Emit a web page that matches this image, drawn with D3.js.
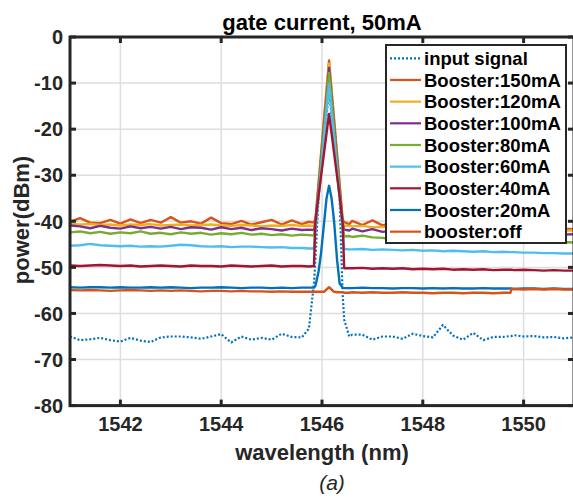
<!DOCTYPE html>
<html>
<head>
<meta charset="utf-8">
<script src="https://cdn.jsdelivr.net/npm/d3@7"></script>
<style>
  body { margin: 0; background: #fff; }
  text { font-family: "Liberation Sans", Arial, Helvetica, sans-serif; }
</style>
</head>
<body>
<div id="chart"></div>
<script>
// wavelength grid (nm) shared by all spectra
const wavelength = [
  1541.0, 1541.2, 1541.4, 1541.6, 1541.8, 1542.0, 1542.2, 1542.4, 1542.6, 1542.8,
  1543.0, 1543.2, 1543.4, 1543.6, 1543.8, 1544.0, 1544.2, 1544.4, 1544.6, 1544.8,
  1545.0, 1545.2, 1545.4, 1545.6,
  1545.74, 1545.84, 1545.87, 1545.93, 1545.98, 1546.04, 1546.09, 1546.14,
  1546.19, 1546.24, 1546.30, 1546.35, 1546.41, 1546.44, 1546.54,
  1546.6, 1546.8, 1547.0, 1547.2, 1547.4, 1547.6, 1547.8, 1548.0, 1548.2, 1548.4,
  1548.6, 1548.8, 1549.0, 1549.2, 1549.4, 1549.6, 1549.74, 1549.76, 1549.8, 1550.0,
  1550.2, 1550.4, 1550.6, 1550.8, 1551.0
];

// power (dBm)
const inputSignal = [
  -65.0, -65.8, -65.6, -65.3, -65.8, -66.1, -65.3, -65.9, -66.2, -65.2,
  -65.0, -65.0, -65.2, -65.5, -65.0, -64.5, -66.3, -65.0, -65.7, -65.3,
  -65.7, -64.4, -65.1, -65.2,
  -63.3, -53.5, -48.0, -35.2, -29.6, -22.8, -17.1, -11.5,
  -17.1, -22.8, -29.6, -35.2, -56.0, -61.3, -65.0,
  -64.6, -64.6, -65.7, -65.0, -65.0, -65.5, -64.4, -64.9, -65.2, -62.5,
  -64.8, -65.7, -64.2, -65.8, -65.1, -65.1, -64.9, -64.9, -64.7, -65.0,
  -64.9, -65.2, -65.1, -65.4, -65.2
];
const booster150 = [
  -40.1, -39.3, -40.3, -40.4, -39.7, -40.5, -39.6, -40.4, -39.7, -40.3,
  -39.1, -40.3, -40.0, -40.5, -39.2, -40.4, -40.6, -39.9, -40.7, -40.2,
  -39.7, -40.7, -39.8, -40.6,
  -40.1, -40.3, -39.5, -31.9, -25.5, -17.8, -11.5, -5.1,
  -11.5, -17.8, -25.5, -31.9, -39.6, -40.2, -40.6,
  -39.9, -40.8, -39.8, -40.9, -40.3, -40.9, -40.5, -41.0, -40.6, -41.1,
  -40.8, -41.2, -40.9, -41.3, -41.0, -41.4, -41.2, -41.2, -41.3, -41.5,
  -41.3, -41.6, -41.4, -41.6, -41.7
];
const booster120 = [
  -40.6, -40.7, -40.6, -40.8, -40.7, -40.9, -40.7, -40.8, -40.6, -40.9,
  -40.8, -40.7, -40.9, -40.8, -40.7, -40.9, -41.0, -40.8, -40.9, -41.1,
  -40.9, -41.0, -40.8, -41.0,
  -40.9, -41.0, -40.0, -32.4, -26.1, -18.5, -12.1, -5.8,
  -12.1, -18.5, -26.1, -32.4, -40.2, -40.9, -41.0,
  -41.1, -41.0, -41.3, -41.2, -41.4, -41.3, -41.5, -41.4, -41.6, -41.5,
  -41.6, -41.7, -41.6, -41.8, -41.7, -41.8, -41.9, -41.9, -41.8, -41.9,
  -42.0, -41.9, -42.0, -42.0, -42.0
];
const booster100 = [
  -40.9, -41.1, -41.5, -41.0, -41.4, -41.6, -41.1, -41.5, -41.2, -41.6,
  -41.2, -41.7, -41.3, -41.4, -41.8, -41.3, -41.7, -41.4, -41.9, -41.5,
  -41.7, -42.0, -41.6, -41.9,
  -41.8, -41.9, -40.5, -33.0, -26.7, -19.2, -13.0, -6.7,
  -13.0, -19.2, -26.7, -33.0, -40.6, -41.8, -42.0,
  -41.6, -42.2, -41.7, -42.3, -42.0, -42.4, -42.1, -42.5, -42.3, -42.6,
  -42.4, -42.7, -42.5, -42.6, -42.8, -42.6, -42.7, -42.7, -42.8, -42.7,
  -42.9, -42.7, -42.8, -42.9, -42.8
];
const booster80 = [
  -42.4, -42.2, -42.6, -42.3, -42.7, -42.4, -42.6, -42.2, -42.7, -42.5,
  -42.8, -42.4, -42.7, -42.5, -42.9, -42.6, -42.8, -42.5, -42.9, -42.7,
  -43.0, -42.8, -43.1, -42.9,
  -43.0, -43.1, -41.0, -33.6, -27.5, -20.1, -13.9, -7.8,
  -13.9, -20.1, -27.5, -33.6, -41.0, -43.3, -43.2,
  -43.4, -43.1, -43.5, -43.6, -43.9, -43.7, -44.0, -43.8, -44.1, -43.9,
  -44.2, -44.0, -44.3, -44.1, -44.4, -44.2, -44.3, -44.3, -44.4, -44.3,
  -44.5, -44.4, -44.6, -44.5, -44.6
];
const booster60 = [
  -45.3, -45.2, -44.9, -45.2, -45.3, -45.4, -45.3, -45.5, -45.4, -45.5,
  -45.3, -45.1, -45.2, -45.4, -45.5, -45.4, -45.6, -45.5, -45.5, -45.6,
  -45.7, -45.6, -45.8, -45.8,
  -45.9, -45.9, -42.0, -35.0, -29.1, -22.0, -16.2, -10.3,
  -16.2, -22.0, -29.1, -35.0, -42.0, -46.0, -46.1,
  -46.1, -46.0, -46.2, -46.1, -46.2, -46.3, -46.2, -46.4, -46.3, -46.5,
  -46.4, -46.5, -46.6, -46.5, -46.7, -46.6, -46.7, -46.7, -46.7, -46.8,
  -46.8, -46.9, -46.9, -47.0, -47.0
];
const booster40 = [
  -49.6, -49.7, -49.6, -49.5, -49.6, -49.7, -49.6, -49.8, -49.7, -49.6,
  -49.7, -49.8, -49.6, -49.7, -49.7, -49.8, -49.6, -49.7, -49.8, -49.7,
  -49.6, -49.8, -49.7, -49.7,
  -49.8, -49.7, -40.0, -34.6, -30.3, -25.2, -20.9, -16.7,
  -20.9, -25.2, -30.3, -34.6, -40.5, -50.2, -50.2,
  -50.2, -50.1, -50.3, -50.2, -50.3, -50.2, -50.4, -50.3, -50.4, -50.3,
  -50.5, -50.4, -50.5, -50.4, -50.6, -50.5, -50.5, -50.5, -50.6, -50.5,
  -50.6, -50.7, -50.6, -50.7, -50.7
];
const booster20 = [
  -54.3, -54.4, -54.3, -54.3, -54.4, -54.3, -54.4, -54.4, -54.3, -54.4,
  -54.3, -54.4, -54.5, -54.4, -54.4, -54.3, -54.4, -54.5, -54.4, -54.4,
  -54.5, -54.4, -54.5, -54.4,
  -54.4, -54.4, -54.0, -51.0, -47.0, -40.5, -35.0, -32.3,
  -35.0, -40.0, -48.5, -53.5, -54.4, -54.5, -54.5,
  -54.5, -54.4, -54.5, -54.5, -54.6, -54.5, -54.5, -54.6, -54.5, -54.6,
  -54.5, -54.6, -54.6, -54.5, -54.6, -54.6, -54.6, -54.6, -54.7, -54.6,
  -54.6, -54.7, -54.6, -54.7, -54.7
];
const boosterOff = [
  -54.9, -55.0, -54.9, -55.0, -55.1, -55.0, -54.9, -55.0, -55.1, -55.0,
  -55.1, -55.0, -55.1, -55.2, -55.1, -55.1, -55.2, -55.1, -55.2, -55.2,
  -55.3, -55.2, -55.3, -55.3,
  -55.3, -55.3, -55.3, -55.3, -55.3, -55.3, -54.8, -54.3,
  -54.8, -55.3, -55.4, -55.4, -55.4, -55.5, -55.5,
  -55.4, -55.5, -55.4, -55.5, -55.5, -55.4, -55.5, -55.5, -55.6, -55.5,
  -55.5, -55.6, -55.5, -55.5, -55.6, -55.5, -55.5, -54.7, -54.7, -54.8,
  -54.7, -54.8, -54.7, -54.8, -54.8
];

const seriesNames = ['input signal', 'Booster:150mA', 'Booster:120mA', 'Booster:100mA',
  'Booster:80mA', 'Booster:60mA', 'Booster:40mA', 'Booster:20mA', 'booster:off'];
const seriesValues = [inputSignal, booster150, booster120, booster100,
  booster80, booster60, booster40, booster20, boosterOff];
const seriesColors = ['#0072BD', '#D95319', '#EDB120', '#7E2F8E',
  '#77AC30', '#4DBEEE', '#A2142F', '#0072BD', '#D95319'];

const xTicks = [1542, 1544, 1546, 1548, 1550];
const yTicks = [0, -10, -20, -30, -40, -50, -60, -70, -80];

const width = 573, height = 498;
const plotL = 70, plotR = 574, plotT = 37, plotB = 405.6;
const axisColor = '#262626';

const svg = d3.select('#chart').append('svg')
  .attr('width', width)
  .attr('height', height);

const x = d3.scaleLinear().domain([1541, 1551]).range([plotL, plotR]);
const y = d3.scaleLinear().domain([-80, 0]).range([plotB, plotT]);

// grid
svg.append('g').selectAll('line').data(xTicks).join('line')
  .attr('x1', d => x(d)).attr('x2', d => x(d))
  .attr('y1', plotT).attr('y2', plotB)
  .attr('stroke', '#dedede').attr('stroke-width', 1.5);
svg.append('g').selectAll('line').data(yTicks.slice(1, -1)).join('line')
  .attr('x1', plotL).attr('x2', plotR)
  .attr('y1', d => y(d)).attr('y2', d => y(d))
  .attr('stroke', '#dedede').attr('stroke-width', 1.5);

// spectra
svg.append('clipPath').attr('id', 'plot-clip')
  .append('rect').attr('x', plotL).attr('y', plotT)
  .attr('width', plotR - plotL).attr('height', plotB - plotT);

const line = d3.line()
  .x((d, i) => x(wavelength[i]))
  .y(d => y(d));

const lines = svg.append('g').attr('clip-path', 'url(#plot-clip)');
seriesValues.forEach((vals, k) => {
  lines.append('path')
    .datum(vals)
    .attr('d', line)
    .attr('fill', 'none')
    .attr('stroke', seriesColors[k])
    .attr('stroke-width', k === 0 ? 2.2 : 2.4)
    .attr('stroke-linejoin', 'round')
    .attr('stroke-dasharray', k === 0 ? '2,2' : null);
});

// axes box with inward ticks
const axisG = svg.append('g');
axisG.append('rect')
  .attr('x', plotL).attr('y', plotT)
  .attr('width', plotR - plotL).attr('height', plotB - plotT)
  .attr('fill', 'none').attr('stroke', axisColor).attr('stroke-width', 3);

const tickLen = 6;
xTicks.forEach(t => {
  axisG.append('line').attr('x1', x(t)).attr('x2', x(t))
    .attr('y1', plotB).attr('y2', plotB - tickLen)
    .attr('stroke', axisColor).attr('stroke-width', 3);
  axisG.append('line').attr('x1', x(t)).attr('x2', x(t))
    .attr('y1', plotT).attr('y2', plotT + tickLen)
    .attr('stroke', axisColor).attr('stroke-width', 3);
});
yTicks.forEach(t => {
  axisG.append('line').attr('x1', plotL).attr('x2', plotL + tickLen)
    .attr('y1', y(t)).attr('y2', y(t))
    .attr('stroke', axisColor).attr('stroke-width', 3);
  axisG.append('line').attr('x1', plotR).attr('x2', plotR - tickLen)
    .attr('y1', y(t)).attr('y2', y(t))
    .attr('stroke', axisColor).attr('stroke-width', 3);
});

// tick labels
svg.append('g').selectAll('text').data(xTicks).join('text')
  .attr('x', d => x(d)).attr('y', 431)
  .attr('text-anchor', 'middle')
  .attr('font-size', 20).attr('font-weight', 'bold')
  .attr('fill', axisColor)
  .text(d => d);
svg.append('g').selectAll('text').data(yTicks).join('text')
  .attr('x', 63).attr('y', d => y(d))
  .attr('dy', '0.36em')
  .attr('text-anchor', 'end')
  .attr('font-size', 20).attr('font-weight', 'bold')
  .attr('fill', axisColor)
  .text(d => d);

// titles
svg.append('text')
  .attr('x', 322).attr('y', 30)
  .attr('text-anchor', 'middle')
  .attr('font-size', 22).attr('font-weight', 'bold')
  .attr('fill', '#000')
  .text('gate current, 50mA');
svg.append('text')
  .attr('x', 322).attr('y', 460)
  .attr('text-anchor', 'middle')
  .attr('font-size', 22).attr('font-weight', 'bold')
  .attr('fill', axisColor)
  .text('wavelength (nm)');
svg.append('text')
  .attr('transform', 'translate(29,220) rotate(-90)')
  .attr('text-anchor', 'middle')
  .attr('font-size', 22).attr('font-weight', 'bold')
  .attr('fill', axisColor)
  .text('power(dBm)');
svg.append('text')
  .attr('x', 332).attr('y', 490)
  .attr('text-anchor', 'middle')
  .attr('font-size', 21).attr('font-style', 'italic')
  .attr('fill', axisColor)
  .text('(a)');

// legend
const legX = 386, legY = 45, legW = 180, legH = 198, rowH = 21.67;
const leg = svg.append('g');
leg.append('rect')
  .attr('x', legX).attr('y', legY).attr('width', legW).attr('height', legH)
  .attr('fill', '#fff').attr('stroke', axisColor).attr('stroke-width', 2);
seriesNames.forEach((name, k) => {
  const cy = 58.3 + k * rowH;
  leg.append('line')
    .attr('x1', 390).attr('x2', 421).attr('y1', cy).attr('y2', cy)
    .attr('stroke', seriesColors[k]).attr('stroke-width', 2.2)
    .attr('stroke-dasharray', k === 0 ? '2,2' : null);
  leg.append('text')
    .attr('x', 424).attr('y', cy).attr('dy', '0.36em')
    .attr('font-size', 18.5).attr('font-weight', 'bold')
    .attr('fill', '#000')
    .text(name);
});
</script>
</body>
</html>
